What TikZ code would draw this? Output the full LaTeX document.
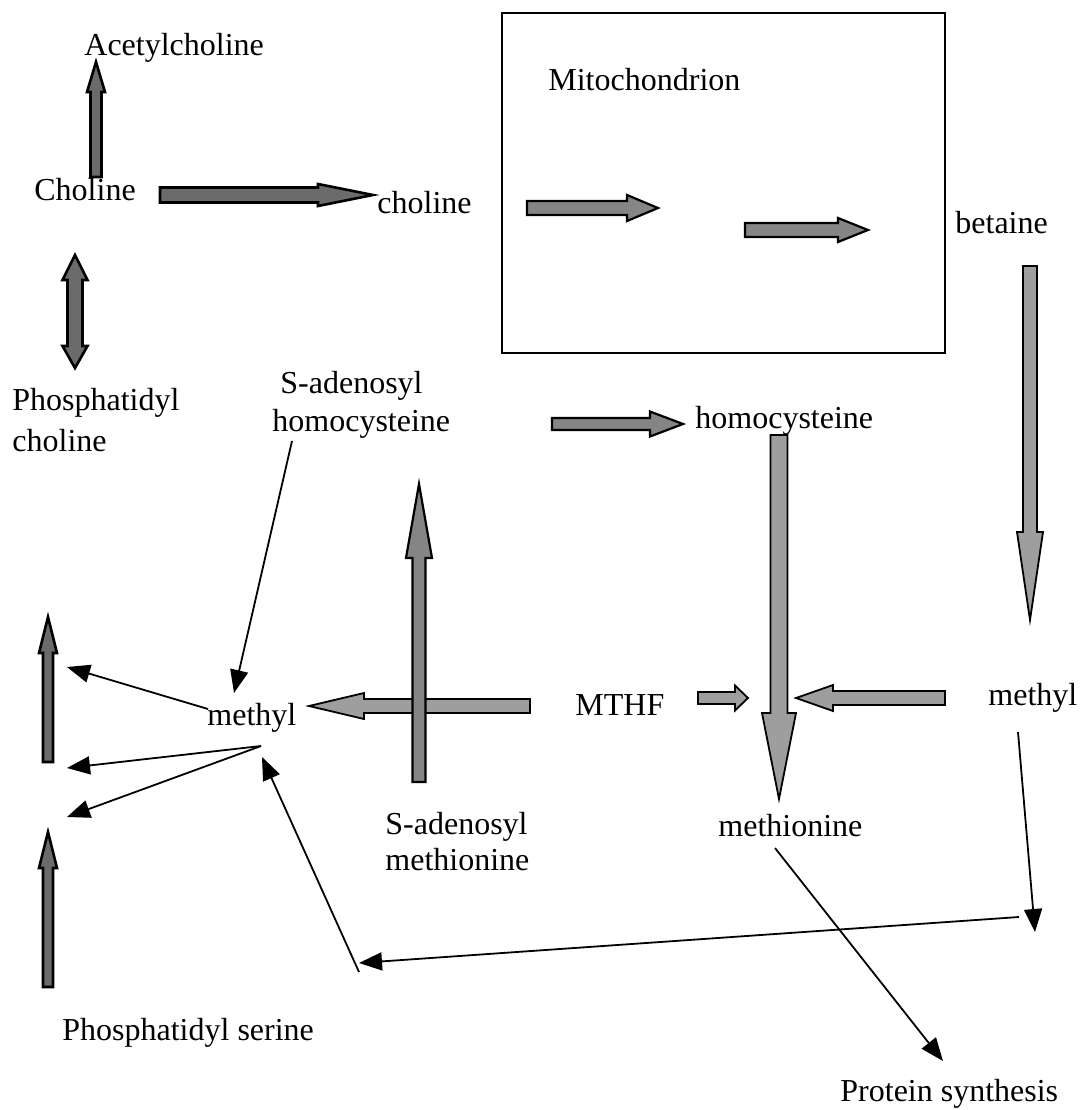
\documentclass[tikz,border=0pt]{standalone}
\usepackage{fontspec}
\setmainfont{Liberation Serif}
\usetikzlibrary{arrows.meta,calc}
% block arrow: #1 style, (#2,#3) tail, (#4,#5) tip, #6 shaft half width, #7 head half width, #8 head length
\newcommand{\blockarr}[8][]{%
  \pgfmathsetmacro{\bal}{veclen(#4-#2,#5-#3)}%
  \pgfmathsetmacro{\bux}{(#4-#2)/\bal}%
  \pgfmathsetmacro{\buy}{(#5-#3)/\bal}%
  \pgfmathsetmacro{\bbx}{#4-#8*\bux}%
  \pgfmathsetmacro{\bby}{#5-#8*\buy}%
  \draw[#1] ({#2-#6*\buy},{#3+#6*\bux}) -- ({\bbx-#6*\buy},{\bby+#6*\bux})
    -- ({\bbx-#7*\buy},{\bby+#7*\bux}) -- (#4,#5)
    -- ({\bbx+#7*\buy},{\bby-#7*\bux}) -- ({\bbx+#6*\buy},{\bby-#6*\bux})
    -- ({#2+#6*\buy},{#3-#6*\bux}) -- cycle;%
}
\begin{document}
\begin{tikzpicture}[x=0.5pt,y=-0.5pt,
  lbl/.style={inner sep=0pt, anchor=base west, font=\fontsize{16}{19}\selectfont},
  thinarr/.style={line width=0.9pt, -{Triangle[length=11.5pt,width=9pt]}},
  darkfill/.style={fill=black!58, draw=black, line width=1.3pt},
  midfill/.style={fill=black!48, draw=black, line width=1.1pt},
  lightfill/.style={fill=black!38, draw=black, line width=0.9pt}]
\useasboundingbox (0,0) rectangle (1083,1110);

% mitochondrion box
\draw[line width=0.8pt] (502,13) rectangle (945,353);

% labels
\node[lbl] (acetyl) at (84,55) {Acetylcholine};
\node[lbl] (cholL) at (34,200) {Choline};
\node[lbl] (cholR) at (377,213) {choline};
\node[lbl] (mito) at (548,90) {Mitochondrion};
\node[lbl] (betaine) at (955,233) {betaine};
\node[lbl] (pc1) at (12,410) {Phosphatidyl};
\node[lbl] (pc2) at (12,451) {choline};
\node[lbl] (sah1) at (280,393) {S-adenosyl};
\node[lbl] (sah2) at (272,431) {homocysteine};
\node[lbl] (hcy) at (695,428) {homocysteine};
\node[lbl] (methylL) at (207,725) {methyl};
\node[lbl] (mthf) at (575,715) {MTHF};
\node[lbl] (methylR) at (988,705) {methyl};
\node[lbl] (sam1) at (385,834) {S-adenosyl};
\node[lbl] (sam2) at (385,870) {methionine};
\node[lbl] (met) at (718,836) {methionine};
\node[lbl] (ps) at (62,1040) {Phosphatidyl serine};
\node[lbl] (prot) at (840,1101) {Protein synthesis};

% block arrows
\blockarr[darkfill]{96}{177}{96}{62}{5.5}{9}{30}
\blockarr[darkfill]{160}{195}{373}{195}{7.5}{11}{55}
\blockarr[midfill]{527}{208}{658}{208}{7}{13}{31}
\blockarr[midfill]{745}{230}{868}{230}{7}{12}{30}
\draw[darkfill] (75,255) -- (87.5,280) -- (82.5,280) -- (82.5,346) -- (87.5,346) -- (75,368)
  -- (62.5,346) -- (67.5,346) -- (67.5,280) -- (62.5,280) -- cycle;
\blockarr[midfill]{552}{424}{683}{424}{6}{12.5}{33}
\blockarr[lightfill]{530}{706}{309}{706}{7}{13}{55}
\blockarr[midfill]{419}{782}{419}{484}{6.5}{13}{74}
\blockarr[lightfill]{779}{435}{779}{799}{8.5}{17}{86}
\blockarr[lightfill]{698}{698}{748}{698}{6}{12.5}{13}
\blockarr[lightfill]{945}{698}{796}{698}{7}{13}{37}
\blockarr[lightfill]{1030}{266}{1030}{620}{7}{13}{88}
\blockarr[darkfill]{48}{762}{48}{617}{5}{9}{36}
\blockarr[darkfill]{48}{987}{48}{832}{5}{9}{36}

% connector end points
\coordinate (sahS) at (292,441);
\coordinate (mTop) at (234,693);
\coordinate (mA) at (208,709);
\coordinate (t1) at (67,667);
\coordinate (mB) at (261,746);
\coordinate (t2) at (67,768);
\coordinate (t3) at (67,817);
\coordinate (psS) at (359,972);
\coordinate (mBot) at (262,757);
\coordinate (hR) at (1019,917);
\coordinate (hL) at (359,963);
\coordinate (mrS) at (1018,732);
\coordinate (mrE) at (1035,932);
\coordinate (metS) at (775,848);
\coordinate (protE) at (943,1061);

% thin arrows
\draw[thinarr] (sahS) -- (mTop);
\draw[thinarr] (mA) -- (t1);
\draw[thinarr] (mB) -- (t2);
\draw[thinarr] (mB) -- (t3);
\draw[thinarr] (psS) -- (mBot);
\draw[thinarr] (hR) -- (hL);
\draw[thinarr] (mrS) -- (mrE);
\draw[thinarr] (metS) -- (protE);
\end{tikzpicture}
\end{document}
